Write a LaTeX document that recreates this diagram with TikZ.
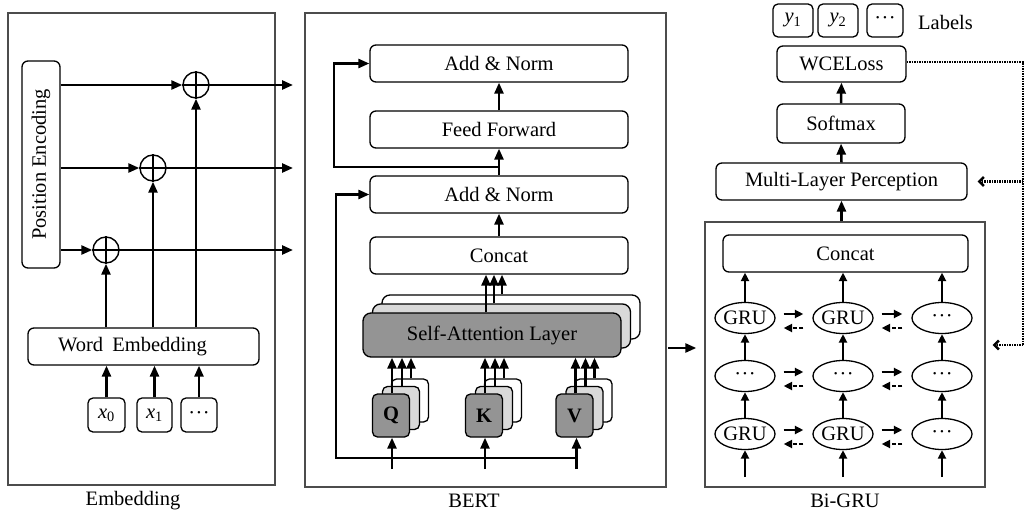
\documentclass[tikz,border=0pt]{standalone}
\usepackage{fontspec}
\setmainfont{Liberation Serif}
\usetikzlibrary{arrows.meta,calc,shapes.geometric}

\newcommand{\mdots}{\kern0.5pt·\kern0.5pt·\kern0.5pt·\kern0.5pt}

\begin{document}
\begin{tikzpicture}[x=1pt,y=-1pt,
  font=\fontsize{20.5}{24}\selectfont,
  frame/.style={draw=black!70, line width=1.4pt, inner sep=0pt},
  blk/.style={draw, rounded corners=6pt, line width=1.3pt, fill=white, inner sep=0pt},
  head/.style={blk, rounded corners=5pt, minimum width=37pt, minimum height=43pt},
  gru/.style={draw, ellipse, line width=1.3pt, inner sep=0pt, minimum width=60pt, minimum height=31pt, font=\fontsize{18.5}{22}\selectfont},
  addc/.style={draw, circle, line width=1.4pt, inner sep=0pt, minimum size=26pt},
  arr/.style={line width=2.5pt, -{Triangle[length=11pt,width=9pt]}},
  sarr/.style={line width=2.5pt, -{Triangle[length=8.5pt,width=8pt]}},
  dotl/.style={line width=2.4pt, dash pattern=on 1.4pt off 1.1pt},
  back/.style={-{Straight Barb[length=4.5pt,width=9pt]}},
  caption/.style={inner sep=0pt}
]
\useasboundingbox (0,0) rectangle (1028,514);

% ---------------- Embedding ----------------
\node[frame, minimum width=267pt, minimum height=472pt] (embframe) at (141.5,249) {};
\node[caption] at (133,501) {Embedding};

\node[blk, minimum width=38pt, minimum height=207pt] (pe) at (41,164.5) {};
\node[rotate=90] at (pe.center) {Position Encoding};

\node[addc] (p1) at (106,250) {};
\node[addc] (p2) at (153,168) {};
\node[addc] (p3) at (196,85) {};
\foreach \c in {p1,p2,p3}
  \draw[line width=1.4pt] (\c.north) -- (\c.south) (\c.west) -- (\c.east);

\coordinate (o1) at (293,85);
\coordinate (o2) at (293,168);
\coordinate (o3) at (293,250);

\draw[arr] (pe.east |- p3) -- (p3.west);
\draw[arr] (pe.east |- p2) -- (p2.west);
\draw[arr] (pe.east |- p1) -- (p1.west);
\draw[arr] (p3.east) -- (o1);
\draw[arr] (p2.east) -- (o2);
\draw[arr] (p1.east) -- (o3);

\node[blk, minimum width=231pt, minimum height=37pt] (we) at (143.5,346.5) {Word\hspace{0.45em}Embedding\hspace*{22pt}};
\draw[arr] (we.north -| p1) -- (p1.south);
\draw[arr] (we.north -| p2) -- (p2.south);
\draw[arr] (we.north -| p3) -- (p3.south);

\node[blk, rounded corners=5pt, minimum width=37pt, minimum height=34pt] (x0) at (106.5,415) {\textit{x}\textsubscript{0}};
\node[blk, rounded corners=5pt, minimum width=35pt, minimum height=34pt] (x1) at (154.5,415) {\textit{x}\textsubscript{1}};
\node[blk, rounded corners=5pt, minimum width=36pt, minimum height=34pt] (xd) at (199,415) {\mdots};
\draw[arr] (x0.north) -- (x0.north |- we.south);
\draw[arr] (x1.north) -- (x1.north |- we.south);
\draw[arr] (xd.north) -- (xd.north |- we.south);

% ---------------- BERT ----------------
\node[frame, minimum width=361pt, minimum height=474pt] (bert) at (485.5,250) {};
\node[caption] at (474,501) {BERT};

\node[blk, minimum width=258pt, minimum height=37pt] (an1) at (499,63.5) {Add \& Norm};
\node[blk, minimum width=258pt, minimum height=37pt] (ff) at (499,129.5) {Feed Forward};
\node[blk, minimum width=258pt, minimum height=37pt] (an2) at (499,194.5) {Add \& Norm};
\node[blk, minimum width=258pt, minimum height=37pt] (cc) at (499,255.5) {Concat};

\draw[arr] (ff.north) -- (an1.south);
\draw[arr] (an2.north) -- (ff.south);
\draw[arr] (cc.north) -- (an2.south);

\coordinate (rt) at (334,167);
\draw[arr] (an2.north |- rt) -- (rt) |- (an1.west);

% multi-head self-attention stack
\node[blk, rounded corners=8pt, minimum width=258pt, minimum height=44pt] (sa3) at (511,317) {};
\node[blk, rounded corners=8pt, minimum width=258pt, minimum height=44pt, fill=black!15] (sa2) at (501.5,326) {};
\node[blk, rounded corners=8pt, minimum width=258pt, minimum height=44pt, fill=black!42] (sa) at (492,335) {Self-Attention Layer};

\draw[arr] ([xshift=-6pt]sa.north) -- ([xshift=-6pt]sa.north |- cc.south);
\draw[arr] ([xshift=-7.5pt]sa2.north) -- ([xshift=-7.5pt]sa2.north |- cc.south);
\draw[arr] ([xshift=-9pt]sa3.north) -- ([xshift=-9pt]sa3.north |- cc.south);

% Q, K, V projection stacks
\foreach \n/\x/\t in {q/391/Q, k/484/K, v/574.5/V}{
  \node[head] (\n3) at (\x+19,400.5) {};
  \node[head, fill=black!15] (\n2) at (\x+10,408) {};
  \node[head, fill=black!42, font=\fontsize{20.5}{24}\selectfont\bfseries] (\n) at (\x,415.5) {\t};
  \draw[arr] ([xshift=1pt]\n.north) -- ([xshift=1pt]\n.north |- sa.south);
  \draw[arr] ([xshift=1pt]\n2.north) -- ([xshift=1pt]\n2.north |- sa.south);
  \draw[arr] ([xshift=1pt]\n3.north) -- ([xshift=1pt]\n3.north |- sa.south);
}

\coordinate (rb) at (336,458);
\coordinate (inb) at (0,469);
\draw[arr] (v.south |- rb) -- (rb) |- (an2.west);
\draw[arr] ([xshift=1pt]q.south |- inb) -- ([xshift=1pt]q.south);
\draw[arr] ([xshift=1pt]k.south |- inb) -- ([xshift=1pt]k.south);
\draw[arr] ([xshift=2pt]v.south |- inb) -- ([xshift=2pt]v.south);

% ---------------- Bi-GRU ----------------
\node[frame, minimum width=280pt, minimum height=265pt] (bigru) at (845,354.5) {};
\node[caption] at (845,501) {Bi-GRU};

\coordinate (bin) at (668,348);
\draw[arr, shorten >=8pt] (bin) -- (bin -| bigru.west);

\node[blk, minimum width=245pt, minimum height=37pt] (cc2) at (845.5,253.5) {Concat};

\foreach \r/\y in {1/318, 2/376, 3/434}{
  \foreach \c/\x in {1/745, 2/843, 3/942}{
    \node[gru] (g\r\c) at (\x,\y) {};
  }
}
\node at (g11) {GRU};
\node at (g12) {GRU};
\node at (g13) {\mdots};
\node at (g21) {\mdots};
\node at (g22) {\mdots};
\node at (g23) {\mdots};
\node at (g31) {GRU};
\node at (g32) {GRU};
\node at (g33) {\mdots};

\foreach \c in {1,2,3}{
  \draw[sarr] ($(g3\c.south)+(0,27)$) -- (g3\c.south);
  \draw[sarr] (g3\c.north) -- (g2\c.south);
  \draw[sarr] (g2\c.north) -- (g1\c.south);
  \draw[sarr] (g1\c.north) -- (g1\c.north |- cc2.south);
}

\foreach \r in {1,2,3}{
  \draw[sarr] ($(g\r1.east)+(8,-4)$) -- ($(g\r2.west)+(-9,-4)$);
  \draw[sarr, dash pattern=on 4pt off 2.5pt] ($(g\r2.west)+(-9,10)$) -- ($(g\r1.east)+(8,10)$);
  \draw[sarr] ($(g\r2.east)+(8,-4)$) -- ($(g\r3.west)+(-9,-4)$);
  \draw[sarr, dash pattern=on 4pt off 2.5pt] ($(g\r3.west)+(-9,10)$) -- ($(g\r2.east)+(8,10)$);
}

% ---------------- Output head ----------------
\node[blk, minimum width=251pt, minimum height=37pt] (mlp) at (841.5,181.5) {Multi-Layer Perception};
\node[blk, minimum width=128pt, minimum height=39pt] (sm) at (841,123.5) {Softmax};
\node[blk, minimum width=129pt, minimum height=36pt] (wce) at (841.5,64) {WCELoss};

\node[blk, rounded corners=5pt, minimum width=40pt, minimum height=33pt] (y1) at (793,20.5) {\textit{y}\textsubscript{1}};
\node[blk, rounded corners=5pt, minimum width=40pt, minimum height=33pt] (y2) at (838,20.5) {\textit{y}\textsubscript{2}};
\node[blk, rounded corners=5pt, minimum width=36pt, minimum height=33pt] (yd) at (885,20.5) {\mdots};
\node[anchor=west, inner sep=0pt] (lab) at (918,22) {Labels};

\draw[arr] (sm.north) -- (wce.south);
\draw[arr] (mlp.north) -- (sm.south);
\draw[arr] (bigru.north -| mlp.north) -- (mlp.south);

% loss feedback (dotted)
\coordinate (dt) at (1023,62);
\coordinate (db) at (1023,345);
\draw[dotl] (wce.east |- dt) -- (dt) -- (db);
\draw[dotl, back, shorten >=10pt] (dt |- mlp.east) -- (mlp.east);
\draw[dotl, back, shorten >=7pt] (db) -- (db -| bigru.east);

\end{tikzpicture}
\end{document}
